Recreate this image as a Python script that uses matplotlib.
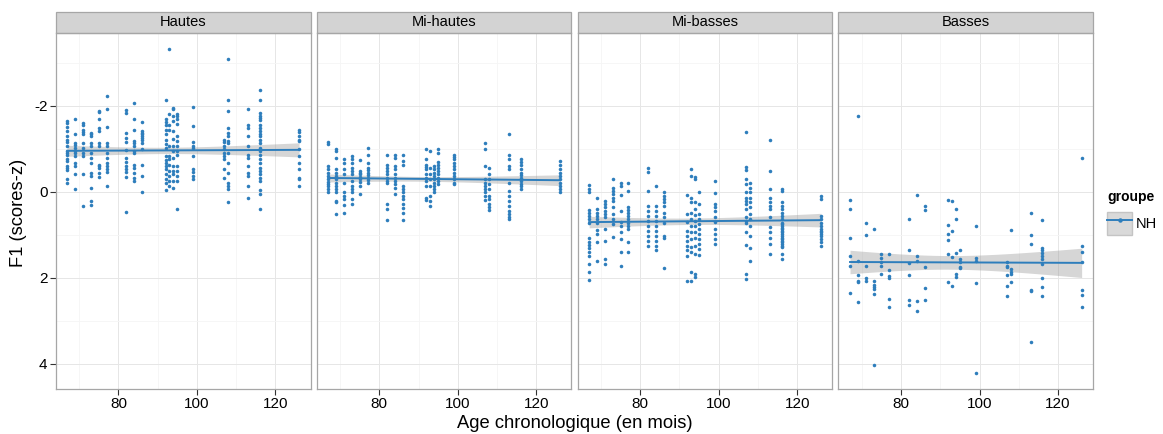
import numpy as np
import matplotlib
matplotlib.use("Agg")
import matplotlib.pyplot as plt
from matplotlib.patches import Rectangle, Patch
from matplotlib.lines import Line2D

plt.rcParams['font.family'] = ['Liberation Sans', 'DejaVu Sans']

panels = ["Hautes", "Mi-hautes", "Mi-basses", "Basses"]
ages = [67, 69, 71, 73, 75, 77, 82, 84, 86, 92, 93, 94, 95, 99, 107, 108, 113, 116, 126]

# F1 z-scores per age column
hautes = [
    [-1.65, -1.6, -1.5, -1.4, -1.3, -1.2, -1.15, -1.05, -0.95, -0.9, -0.85, -0.75, -0.7, -0.6, -0.55, -0.5, -0.3, -0.2],
    [-1.70, -1.33, -1.14, -1.08, -1.02, -0.94, -0.89, -0.83, -0.67, -0.59, -0.40, -0.05],
    [-1.6, -1.56, -1.44, -1.38, -1.33, -1.12, -1.02, -0.9, -0.83, -0.42, 0.33],
    [-1.37, -1.33, -1.29, -1.14, -1.06, -0.9, -0.79, -0.67, -0.44, -0.36, -0.09, 0.22, 0.32],
    [-1.88, -1.85, -1.68, -1.48, -1.41, -1.14, -1.06, -0.63, -0.59, -0.56, -0.44, -0.35],
    [-2.22, -1.93, -1.5, -1.14, -1.06, -0.89, -0.79, -0.66, -0.59, -0.52, -0.46, -0.12],
    [-1.89, -1.83, -1.37, -1.25, -1.15, -0.97, -0.79, -0.69, -0.59, -0.52, -0.46, -0.35, 0.47],
    [-2.05, -1.68, -1.44, -1.17, -1.12, -1.06, -0.94, -0.89, -0.63, -0.56, -0.44, -0.32, -0.25],
    [-1.62, -1.41, -1.37, -1.33, -1.29, -1.25, -1.21, -1.14, -0.98, -0.63, -0.36, 0.02],
    [-2.12, -1.68, -1.61, -1.54, -1.43, -1.33, -1.21, -1.10, -1.02, -0.83, -0.73, -0.67, -0.59, -0.52, -0.40, -0.29, -0.21, -0.04],
    [-3.31, -1.81, -1.56, -1.43, -1.06, -0.83, -0.75, -0.63, -0.48, -0.36, -0.25, -0.13],
    [-1.95, -1.91, -1.75, -1.64, -1.41, -1.23, -1.06, -0.94, -0.79, -0.59, -0.48, -0.40, -0.25, -0.09],
    [-1.81, -1.75, -1.68, -1.58, -1.29, -1.17, -1.06, -0.94, -0.86, -0.59, -0.48, -0.36, -0.25, 0.41],
    [-1.97, -1.52, -1.15, -1.06, -1.02, -0.83, -0.52, -0.46, -0.36, -0.30],
    [-1.21, -1.15, -1.06, -0.98, -0.9, -0.83, -0.75, -0.52, -0.32],
    [-3.08, -2.14, -1.88, -1.48, -1.37, -1.29, -1.17, -1.14, -0.9, -0.67, -0.44, -0.21, -0.13, -0.05, 0.24],
    [-1.91, -1.56, -1.48, -1.29, -1.06, -0.86, -0.79, -0.59, -0.44, -0.36, -0.13, 0.14],
    [-2.37, -2.12, -1.83, -1.77, -1.71, -1.66, -1.56, -1.48, -1.41, -1.35, -1.29, -1.21, -1.12, -1.02, -0.94, -0.86,
     -0.75, -0.67, -0.56, -0.48, -0.40, -0.32, -0.25, -0.04, 0.06, 0.41],
    [-1.44, -1.38, -1.29, -1.21, -1.17, -0.98, -0.83, -0.67, -0.53, -0.32, -0.29, -0.13],
]

mi_hautes = [
    [-1.15, -1.10, -0.59, -0.52, -0.44, -0.36, -0.29, -0.22, -0.17, -0.12, -0.05, 0.01],
    [-0.98, -0.94, -0.79, -0.52, -0.44, -0.36, -0.29, -0.21, -0.13, -0.05, 0.02, 0.22, 0.25, 0.53],
    [-0.75, -0.67, -0.52, -0.40, -0.21, 0.02, 0.10, 0.18, 0.32, 0.49],
    [-0.83, -0.75, -0.67, -0.56, -0.48, -0.40, -0.25, -0.13, -0.05, 0.02, 0.18, 0.29],
    [-0.73, -0.48, -0.44, -0.40, -0.35, -0.29, -0.22, -0.13, 0.06],
    [-1.02, -0.86, -0.67, -0.56, -0.50, -0.44, -0.38, -0.32, -0.27, -0.21],
    [-0.86, -0.63, -0.56, -0.48, -0.40, -0.32, -0.25, -0.19, 0.29, 0.41, 0.66],
    [-0.86, -0.79, -0.59, -0.52, -0.40, -0.32, -0.25, -0.17, -0.09, 0.06],
    [-0.86, -0.71, -0.63, -0.12, -0.05, 0.02, 0.10, 0.18, 0.29, 0.39, 0.49, 0.66],
    [-1.0, -0.75, -0.63, -0.58, -0.52, -0.42, -0.32, -0.25, -0.13, 0.14, 0.19],
    [-0.94, -0.56, -0.40, -0.29, -0.13, 0.10, 0.22, 0.33],
    [-0.59, -0.52, -0.44, -0.36, -0.29, -0.21, -0.13, -0.05, 0.01],
    [-1.0, -0.90, -0.69, -0.63, -0.56, -0.48, -0.40, -0.32, -0.25, -0.17],
    [-0.86, -0.81, -0.75, -0.67, -0.59, -0.52, -0.44, -0.36, -0.29, -0.21, -0.17],
    [-1.12, -0.98, -0.59, -0.29, -0.21, -0.13, -0.05, 0.02, 0.10, 0.20],
    [-0.56, -0.40, -0.29, -0.17, -0.05, 0.10, 0.18, 0.29, 0.37, 0.42],
    [-1.35, -0.86, -0.75, -0.59, -0.52, -0.21, -0.02, 0.10, 0.22, 0.33, 0.45, 0.53, 0.58, 0.64],
    [-0.75, -0.69, -0.63, -0.52, -0.44, -0.38, -0.32, -0.25, -0.17, -0.12, -0.05],
    [-0.71, -0.63, -0.52, -0.44, -0.36, -0.29, -0.21, -0.13, -0.05, 0.01],
]

mi_basses = [
    [-0.15, -0.05, 0.02, 0.42, 0.49, 0.56, 0.64, 0.72, 1.09, 1.17, 1.24, 1.32, 1.40, 1.51, 1.68, 1.86, 2.05],
    [0.16, 0.41, 0.49, 0.56, 0.64, 0.72, 0.89, 0.99, 1.18, 1.61],
    [0.23, 0.29, 0.37, 0.45, 0.53, 0.60, 0.87, 1.14, 1.58, 1.68],
    [-0.29, -0.09, -0.02, 0.06, 0.14, 0.22, 0.37, 0.53, 0.64, 0.76, 1.05],
    [-0.19, -0.12, 0.08, 0.46, 0.70, 0.81, 0.93, 1.10, 1.40, 1.72],
    [-0.19, -0.02, 0.37, 0.42, 0.49, 0.56, 0.64, 0.72, 0.80, 0.87, 1.18, 1.40],
    [-0.56, -0.46, -0.02, 0.33, 0.45, 0.56, 0.68, 0.80, 0.91, 1.03, 1.14, 1.26],
    [-0.13, 0.33, 0.45, 0.56, 0.68, 0.80, 0.91, 1.03, 1.14, 1.26, 1.37],
    [0.01, 0.10, 0.18, 0.25, 0.33, 0.49, 0.60, 0.72, 1.03, 1.07, 1.78],
    [0.08, 0.53, 0.70, 0.91, 1.03, 1.14, 1.26, 1.37, 1.49, 2.09],
    [-0.52, -0.36, 0.16, 0.25, 0.49, 0.64, 0.80, 0.95, 1.10, 1.30, 1.41, 1.88, 2.09],
    [-0.34, -0.29, 0.24, 0.41, 0.55, 0.68, 0.81, 0.95, 1.09, 1.26, 1.45, 1.92, 1.99],
    [0.01, 0.29, 0.53, 0.64, 0.76, 0.87, 0.99, 1.10, 1.22, 1.34, 1.47],
    [-0.25, 0.04, 0.29, 0.37, 0.45, 0.60, 0.70, 0.87, 0.99, 1.10, 1.22],
    [-1.39, -0.58, -0.50, -0.29, -0.17, 0.01, 0.14, 0.22, 0.29, 0.41, 0.60, 0.68, 0.72, 0.95, 1.24, 1.92, 2.03],
    [-0.19, -0.09, 0.02, 0.16, 0.25, 0.37, 0.53, 0.64, 0.80, 1.04, 1.32, 1.61],
    [-1.2, -0.48, -0.07, 0.16, 0.25, 0.33, 0.41, 0.60, 0.83, 0.95, 1.07, 1.22, 1.45],
    [-0.07, -0.02, 0.25, 0.33, 0.41, 0.49, 0.56, 0.64, 0.72, 0.76, 0.80, 0.84, 0.87, 0.91, 0.95, 0.99, 1.03, 1.07,
     1.10, 1.14, 1.18, 1.22, 1.26, 1.30, 1.45, 1.57],
    [0.10, 0.18, 0.56, 0.64, 0.72, 0.80, 0.87, 0.91, 0.95, 0.99, 1.03, 1.10, 1.18, 1.26],
]

basses = [
    [0.19, 0.40, 1.08, 1.51, 1.74, 2.35],
    [-1.75, 1.61, 1.94, 2.07, 2.11, 2.57],
    [0.74, 1.02, 1.74, 2.02, 2.09],
    [0.86, 2.09, 2.17, 2.22, 2.26, 2.39, 4.04],
    [1.45, 1.55, 1.64, 1.72, 1.92],
    [1.46, 1.82, 1.97, 2.00, 2.49, 2.69],
    [0.64, 1.37, 1.67, 1.95, 2.52, 2.63],
    [0.09, 1.49, 1.61, 2.54, 2.79],
    [0.34, 0.42, 1.76, 2.24, 2.52],
    [0.19, 0.77, 0.98, 1.12, 1.45, 2.11],
    [0.21, 0.91, 1.53, 2.20],
    [0.40, 0.64, 1.43, 1.92, 1.99],
    [1.36, 1.56, 1.64, 1.76, 1.78],
    [0.80, 1.54, 1.61, 2.12, 4.21],
    [1.64, 1.72, 1.76, 1.94, 2.19, 2.42],
    [0.90, 1.81, 1.86, 1.92, 2.10],
    [0.49, 1.01, 1.23, 2.29, 2.31, 3.51],
    [0.65, 1.32, 1.37, 1.43, 1.49, 1.57, 1.69, 2.02, 2.23, 2.43],
    [-0.79, 1.26, 1.41, 1.64, 2.28, 2.41, 2.68],
]

panel_data = [hautes, mi_hautes, mi_basses, basses]

blue = "#2E7EBC"
fig, axes = plt.subplots(1, 4, figsize=(11.63, 4.34), dpi=100, sharey=True)
fig.subplots_adjust(left=0.048, right=0.940, top=0.924, bottom=0.104, wspace=0.024)

for i, (ax, name, cols) in enumerate(zip(axes, panels, panel_data)):
    x = np.concatenate([[a] * len(c) for a, c in zip(ages, cols)]).astype(float)
    y = np.concatenate(cols)

    # lm fit with 95% confidence band
    slope, icpt = np.polyfit(x, y, 1)
    n = len(x)
    resid = y - (slope * x + icpt)
    s = np.sqrt(np.sum(resid ** 2) / (n - 2))
    xs = np.linspace(x.min(), x.max(), 80)
    se = s * np.sqrt(1 / n + (xs - x.mean()) ** 2 / np.sum((x - x.mean()) ** 2))
    fit = slope * xs + icpt
    ax.fill_between(xs, fit - 1.97 * se, fit + 1.97 * se, color="#999999", alpha=0.4, lw=0, zorder=2)
    ax.scatter(x, y, s=6.5, color=blue, lw=0, zorder=3)
    ax.plot(xs, fit, color=blue, lw=1.4, zorder=4)

    ax.set_xlim(64.05, 128.95)
    ax.set_ylim(4.59, -3.69)
    ax.set_xticks([80, 100, 120])
    ax.set_xticks([70, 90, 110], minor=True)
    ax.set_yticks([-2, 0, 2, 4])
    ax.set_yticks([-3, -1, 1, 3], minor=True)
    ax.grid(which="major", color="#E6E6E6", lw=0.7)
    ax.grid(which="minor", color="#F5F5F5", lw=0.6)
    ax.set_axisbelow(True)
    for sp in ax.spines.values():
        sp.set_color("#A6A6A6")
        sp.set_linewidth(0.9)
    ax.tick_params(which="major", length=4, width=0.8, color="#333333", labelsize=11, pad=2)
    ax.tick_params(which="minor", length=0)
    if i > 0:
        ax.tick_params(axis="y", which="both", left=False)

    strip = Rectangle((0, 1.0), 1, 0.059, transform=ax.transAxes, clip_on=False,
                      facecolor="#D3D3D3", edgecolor="#A6A6A6", lw=0.9)
    ax.add_patch(strip)
    ax.text(0.5, 1.0295, name, transform=ax.transAxes, ha="center", va="center", fontsize=10.5)

axes[0].set_yticklabels(["-2", "0", "2", "4"])
fig.text(0.494, 0.024, "Age chronologique (en mois)", ha="center", va="center", fontsize=13.2)
fig.text(0.016, 0.51, "F1 (scores-z)", ha="center", va="center", rotation=90, fontsize=13.2)

key = (Patch(facecolor="#D9D9D9", edgecolor="#C4C4C4"),
       Line2D([], [], color=blue, lw=1.4, marker="o", markersize=2.2))
fig.legend([key], ["NH"], title="groupe", loc="upper left", bbox_to_anchor=(0.951, 0.565),
           frameon=False, fontsize=10.5, title_fontproperties={"weight": "bold", "size": 10},
           handlelength=1.7, handleheight=2.1, handletextpad=0.25, borderpad=0.1,
           borderaxespad=0.0, alignment="left")

fig.savefig("out.png", dpi=100)
